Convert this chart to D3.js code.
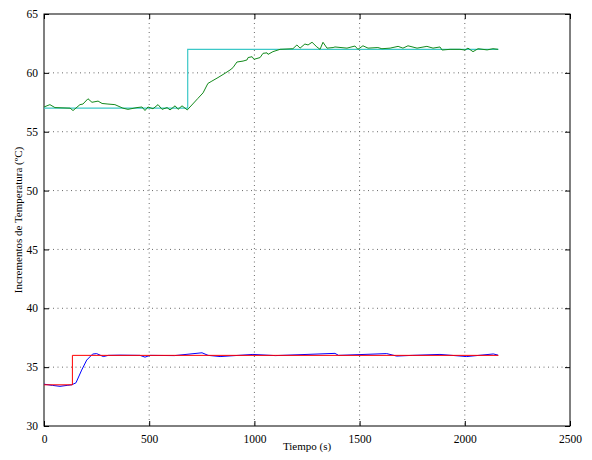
<!DOCTYPE html>
<html>
<head>
<meta charset="utf-8">
<script src="https://cdn.jsdelivr.net/npm/d3@7"></script>
<style>
  body { margin: 0; background: #fff; }
  text { font-family: "Liberation Serif", "Times New Roman", serif; }
</style>
</head>
<body>
<svg id="chart" width="592" height="460"></svg>
<script>
// consignas (escalones) y respuestas
const refHighT = [0, 683, 683, 2160];
const refHighV = [57, 57, 62, 62];

const tempHighT = [0, 28, 52, 124, 138, 171, 185, 209, 228, 257, 276, 304, 337, 375, 399, 442, 466, 480, 494, 518, 542, 561, 585, 599, 623, 637, 656, 681,
  732, 756, 779, 798, 827, 860, 884, 898, 917, 946, 965, 970, 989, 998, 1027, 1041, 1060, 1065, 1088, 1122, 1183, 1202, 1217, 1240, 1255, 1274, 1297, 1312, 1326, 1345, 1374,
  1383, 1440, 1478, 1492, 1516, 1540, 1587, 1606, 1645, 1683, 1706, 1730, 1773, 1820, 1849, 1882, 1892, 1930, 1977, 2001, 2015, 2039, 2063, 2106, 2134, 2158];
const tempHighV = [57.1, 57.3, 57.05, 57.0, 56.8, 57.3, 57.35, 57.8, 57.5, 57.6, 57.4, 57.35, 57.3, 57.0, 56.9, 57.05, 57.1, 56.8, 57.1, 56.95, 57.3, 56.9, 57.05, 56.85, 57.2, 56.9, 57.2, 56.85,
  57.84, 58.3, 59.1, 59.3, 59.6, 59.96, 60.24, 60.44, 60.92, 61.0, 61.1, 61.3, 61.37, 61.15, 61.3, 61.66, 61.7, 61.57, 61.8, 62.0, 62.05, 62.37, 62.1, 62.45, 62.37, 62.6, 62.2, 62.0, 62.6, 62.1, 62.15,
  62.2, 62.1, 62.28, 62.0, 62.3, 62.1, 62.15, 62.05, 62.1, 62.25, 62.1, 62.3, 62.1, 62.25, 62.1, 62.2, 61.94, 62.0, 62.0, 61.94, 62.1, 61.8, 62.05, 61.95, 62.05, 62.0];

const refLowT = [0, 135, 135, 2160];
const refLowV = [33.5, 33.5, 36, 36];

const tempLowT = [0, 40, 76, 110, 132, 152, 179, 203, 231, 250, 282, 306, 361, 456, 480, 504, 620, 751, 780, 837, 993, 1100, 1383, 1400, 1629, 1676, 1750, 1882, 2009, 2136, 2158];
const tempLowV = [33.55, 33.45, 33.37, 33.45, 33.5, 33.67, 34.75, 35.6, 36.11, 36.15, 35.9, 36.0, 36.02, 36.0, 35.85, 36.0, 35.98, 36.22, 36.0, 35.9, 36.08, 35.98, 36.17, 36.0, 36.15, 35.94, 36.0, 36.08, 35.9, 36.12, 36.02];

const xTicks = [0, 500, 1000, 1500, 2000, 2500];
const yTicks = [30, 35, 40, 45, 50, 55, 60, 65];

const svg = d3.select("#chart");
const pLeft = 44, pRight = 570, pTop = 14, pBottom = 426;

const x = d3.scaleLinear().domain([0, 2500]).range([pLeft, pRight]);
const y = d3.scaleLinear().domain([30, 65]).range([pBottom, pTop]);

// rejilla punteada
const grid = svg.append("g");
grid.selectAll("line.gx").data(xTicks.slice(1, -1)).enter().append("line")
  .attr("x1", d => x(d)).attr("x2", d => x(d))
  .attr("y1", pTop).attr("y2", pBottom)
  .attr("stroke", "#444").attr("stroke-width", 0.8).attr("stroke-dasharray", "1,3.5");
grid.selectAll("line.gy").data(yTicks.slice(1, -1)).enter().append("line")
  .attr("y1", d => y(d)).attr("y2", d => y(d))
  .attr("x1", pLeft).attr("x2", pRight)
  .attr("stroke", "#444").attr("stroke-width", 0.8).attr("stroke-dasharray", "1,3.5");

// ejes (ticks hacia dentro, en los cuatro lados)
const fmt = d3.format("d");
const axB = svg.append("g").attr("transform", `translate(0,${pBottom})`)
  .call(d3.axisBottom(x).tickValues(xTicks).tickFormat(fmt).tickSizeInner(-5).tickSizeOuter(0).tickPadding(9));
const axT = svg.append("g").attr("transform", `translate(0,${pTop})`)
  .call(d3.axisTop(x).tickValues(xTicks).tickFormat("").tickSizeInner(-5).tickSizeOuter(0));
const axL = svg.append("g").attr("transform", `translate(${pLeft},0)`)
  .call(d3.axisLeft(y).tickValues(yTicks).tickFormat(fmt).tickSizeInner(-5).tickSizeOuter(0).tickPadding(6));
const axR = svg.append("g").attr("transform", `translate(${pRight},0)`)
  .call(d3.axisRight(y).tickValues(yTicks).tickFormat("").tickSizeInner(-5).tickSizeOuter(0));

[axB, axT, axL, axR].forEach(a => {
  a.select(".domain").remove();
  a.selectAll(".tick line").attr("stroke", "#000").attr("stroke-width", 1);
  a.selectAll("text").attr("font-family", "Liberation Serif").attr("font-size", 11.5).attr("fill", "#000");
});

svg.append("rect")
  .attr("x", pLeft).attr("y", pTop).attr("width", pRight - pLeft).attr("height", pBottom - pTop)
  .attr("fill", "none").attr("stroke", "#000").attr("stroke-width", 1);

// series
const line = d3.line().x(d => x(d[0])).y(d => y(d[1]));
const plot = (t, v, color, w) => svg.append("path")
  .datum(d3.zip(t, v))
  .attr("d", line)
  .attr("fill", "none").attr("stroke", color).attr("stroke-width", w);

plot(refHighT, refHighV, "#3cc8c8", 1.2);
plot(tempHighT, tempHighV, "#138a1c", 1);
plot(tempLowT, tempLowV, "#0000ff", 1);
plot(refLowT, refLowV, "#ff0000", 1);

// etiquetas
svg.append("text")
  .attr("x", (pLeft + pRight) / 2).attr("y", 450)
  .attr("text-anchor", "middle").attr("font-size", 11)
  .text("Tiempo (s)");
svg.append("text")
  .attr("transform", `translate(22,${(pTop + pBottom) / 2}) rotate(-90)`)
  .attr("text-anchor", "middle").attr("font-size", 11)
  .text("Incrementos de Temperatura (ºC)");
</script>
</body>
</html>
